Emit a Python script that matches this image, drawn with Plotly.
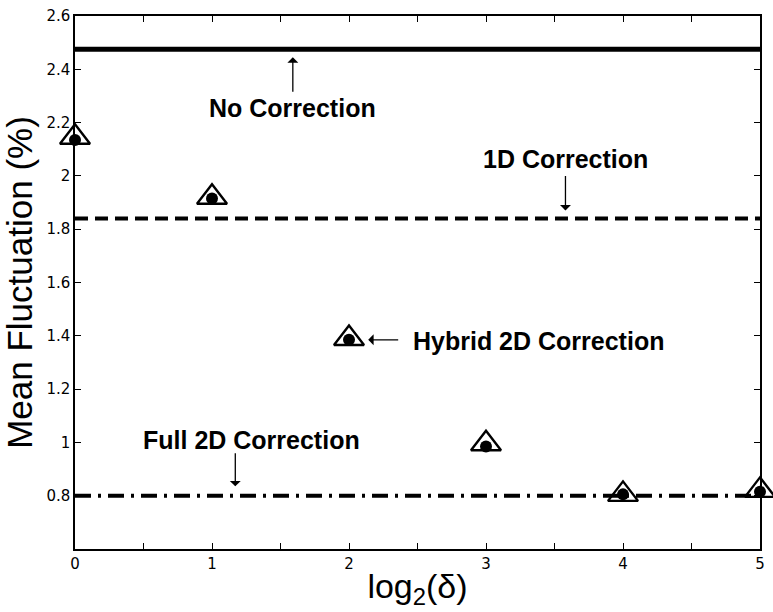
import plotly.graph_objects as go

# Data
log2_delta = [0, 1, 2, 3, 4, 5]
hybrid_triangle = [2.145, 1.92, 1.39, 0.995, 0.805, 0.82]
hybrid_circle = [2.135, 1.915, 1.385, 0.985, 0.805, 0.815]
no_correction = 2.475
one_d_correction = 1.84
full_2d_correction = 0.80

x_tickvals = [0, 0.5, 1, 1.5, 2, 2.5, 3, 3.5, 4, 4.5, 5]
x_ticktext = ["0", "", "1", "", "2", "", "3", "", "4", "", "5"]
y_tickvals = [0.6, 0.8, 1.0, 1.2, 1.4, 1.6, 1.8, 2.0, 2.2, 2.4, 2.6]
y_ticktext = ["", "0.8", "1", "1.2", "1.4", "1.6", "1.8", "2", "2.2", "2.4", "2.6"]

fig = go.Figure()
xr = [0, 5]
fig.add_trace(go.Scatter(x=xr, y=[no_correction]*2, mode="lines",
                         line=dict(color="black", width=5), showlegend=False))
fig.add_trace(go.Scatter(x=xr, y=[one_d_correction]*2, mode="lines",
                         line=dict(color="black", width=4, dash="13px,7px"), showlegend=False))
fig.add_trace(go.Scatter(x=xr, y=[full_2d_correction]*2, mode="lines",
                         line=dict(color="black", width=4, dash="16px,7px,3px,7px"), showlegend=False))
fig.add_trace(go.Scatter(x=log2_delta, y=hybrid_triangle, mode="markers",
                         marker=dict(symbol="triangle-up-open", size=26, color="black",
                                     line=dict(width=2.4, color="black")),
                         showlegend=False, cliponaxis=False))
fig.add_trace(go.Scatter(x=log2_delta, y=hybrid_circle, mode="markers",
                         marker=dict(symbol="circle", size=12, color="black"),
                         showlegend=False, cliponaxis=False))

tfont = dict(family="Liberation Sans", size=25, color="black")
annos = [
    dict(x=1.59, y=2.255, text="<b>No Correction</b>"),
    dict(x=3.58, y=2.065, text="<b>1D Correction</b>"),
    dict(x=3.38, y=1.382, text="<b>Hybrid 2D Correction</b>"),
    dict(x=1.29, y=1.008, text="<b>Full 2D Correction</b>"),
]
for a in annos:
    fig.add_annotation(x=a["x"], y=a["y"], text=a["text"], showarrow=False,
                       font=tfont, xref="x", yref="y")

arrows = [
    (1.59, 2.445, 1.59, 2.31),
    (3.58, 1.87, 3.58, 2.005),
    (2.14, 1.385, 2.37, 1.385),
    (1.17, 0.835, 1.17, 0.965),
]
for (hx, hy, tx, ty) in arrows:
    fig.add_annotation(x=hx, y=hy, ax=tx, ay=ty, xref="x", yref="y", axref="x", ayref="y",
                       text="", showarrow=True, arrowhead=1, arrowsize=1.4,
                       arrowwidth=1.3, arrowcolor="black")

fig.update_layout(
    width=773, height=612,
    margin=dict(l=75, r=13, t=7, b=63),
    plot_bgcolor="white", paper_bgcolor="white",
    font=dict(family="Liberation Sans", color="black"),
    xaxis=dict(range=[0, 5], tickvals=x_tickvals, ticktext=x_ticktext,
               ticks="inside", ticklen=6, tickwidth=1.3, tickcolor="black",
               showline=True, linecolor="black", linewidth=1.5, mirror="ticks",
               showgrid=False, zeroline=False,
               tickfont=dict(size=15, family="DejaVu Sans", color="black"),
               title=dict(text="log<sub>2</sub>(δ)", font=dict(size=34, family="Liberation Sans"),
                          standoff=2)),
    yaxis=dict(range=[0.6, 2.6], tickvals=y_tickvals, ticktext=y_ticktext,
               ticks="inside", ticklen=6, tickwidth=1.3, tickcolor="black",
               showline=True, linecolor="black", linewidth=1.5, mirror="ticks",
               showgrid=False, zeroline=False,
               tickfont=dict(size=15, family="DejaVu Sans", color="black"),
               title=dict(text="Mean Fluctuation (%)", font=dict(size=35, family="Liberation Sans"),
                          standoff=4)),
)

fig.write_html("out.html", config={"displayModeBar": False},
               post_script="document.body.style.margin='0';document.body.style.padding='0';"
                           "document.documentElement.style.overflow='hidden';")
